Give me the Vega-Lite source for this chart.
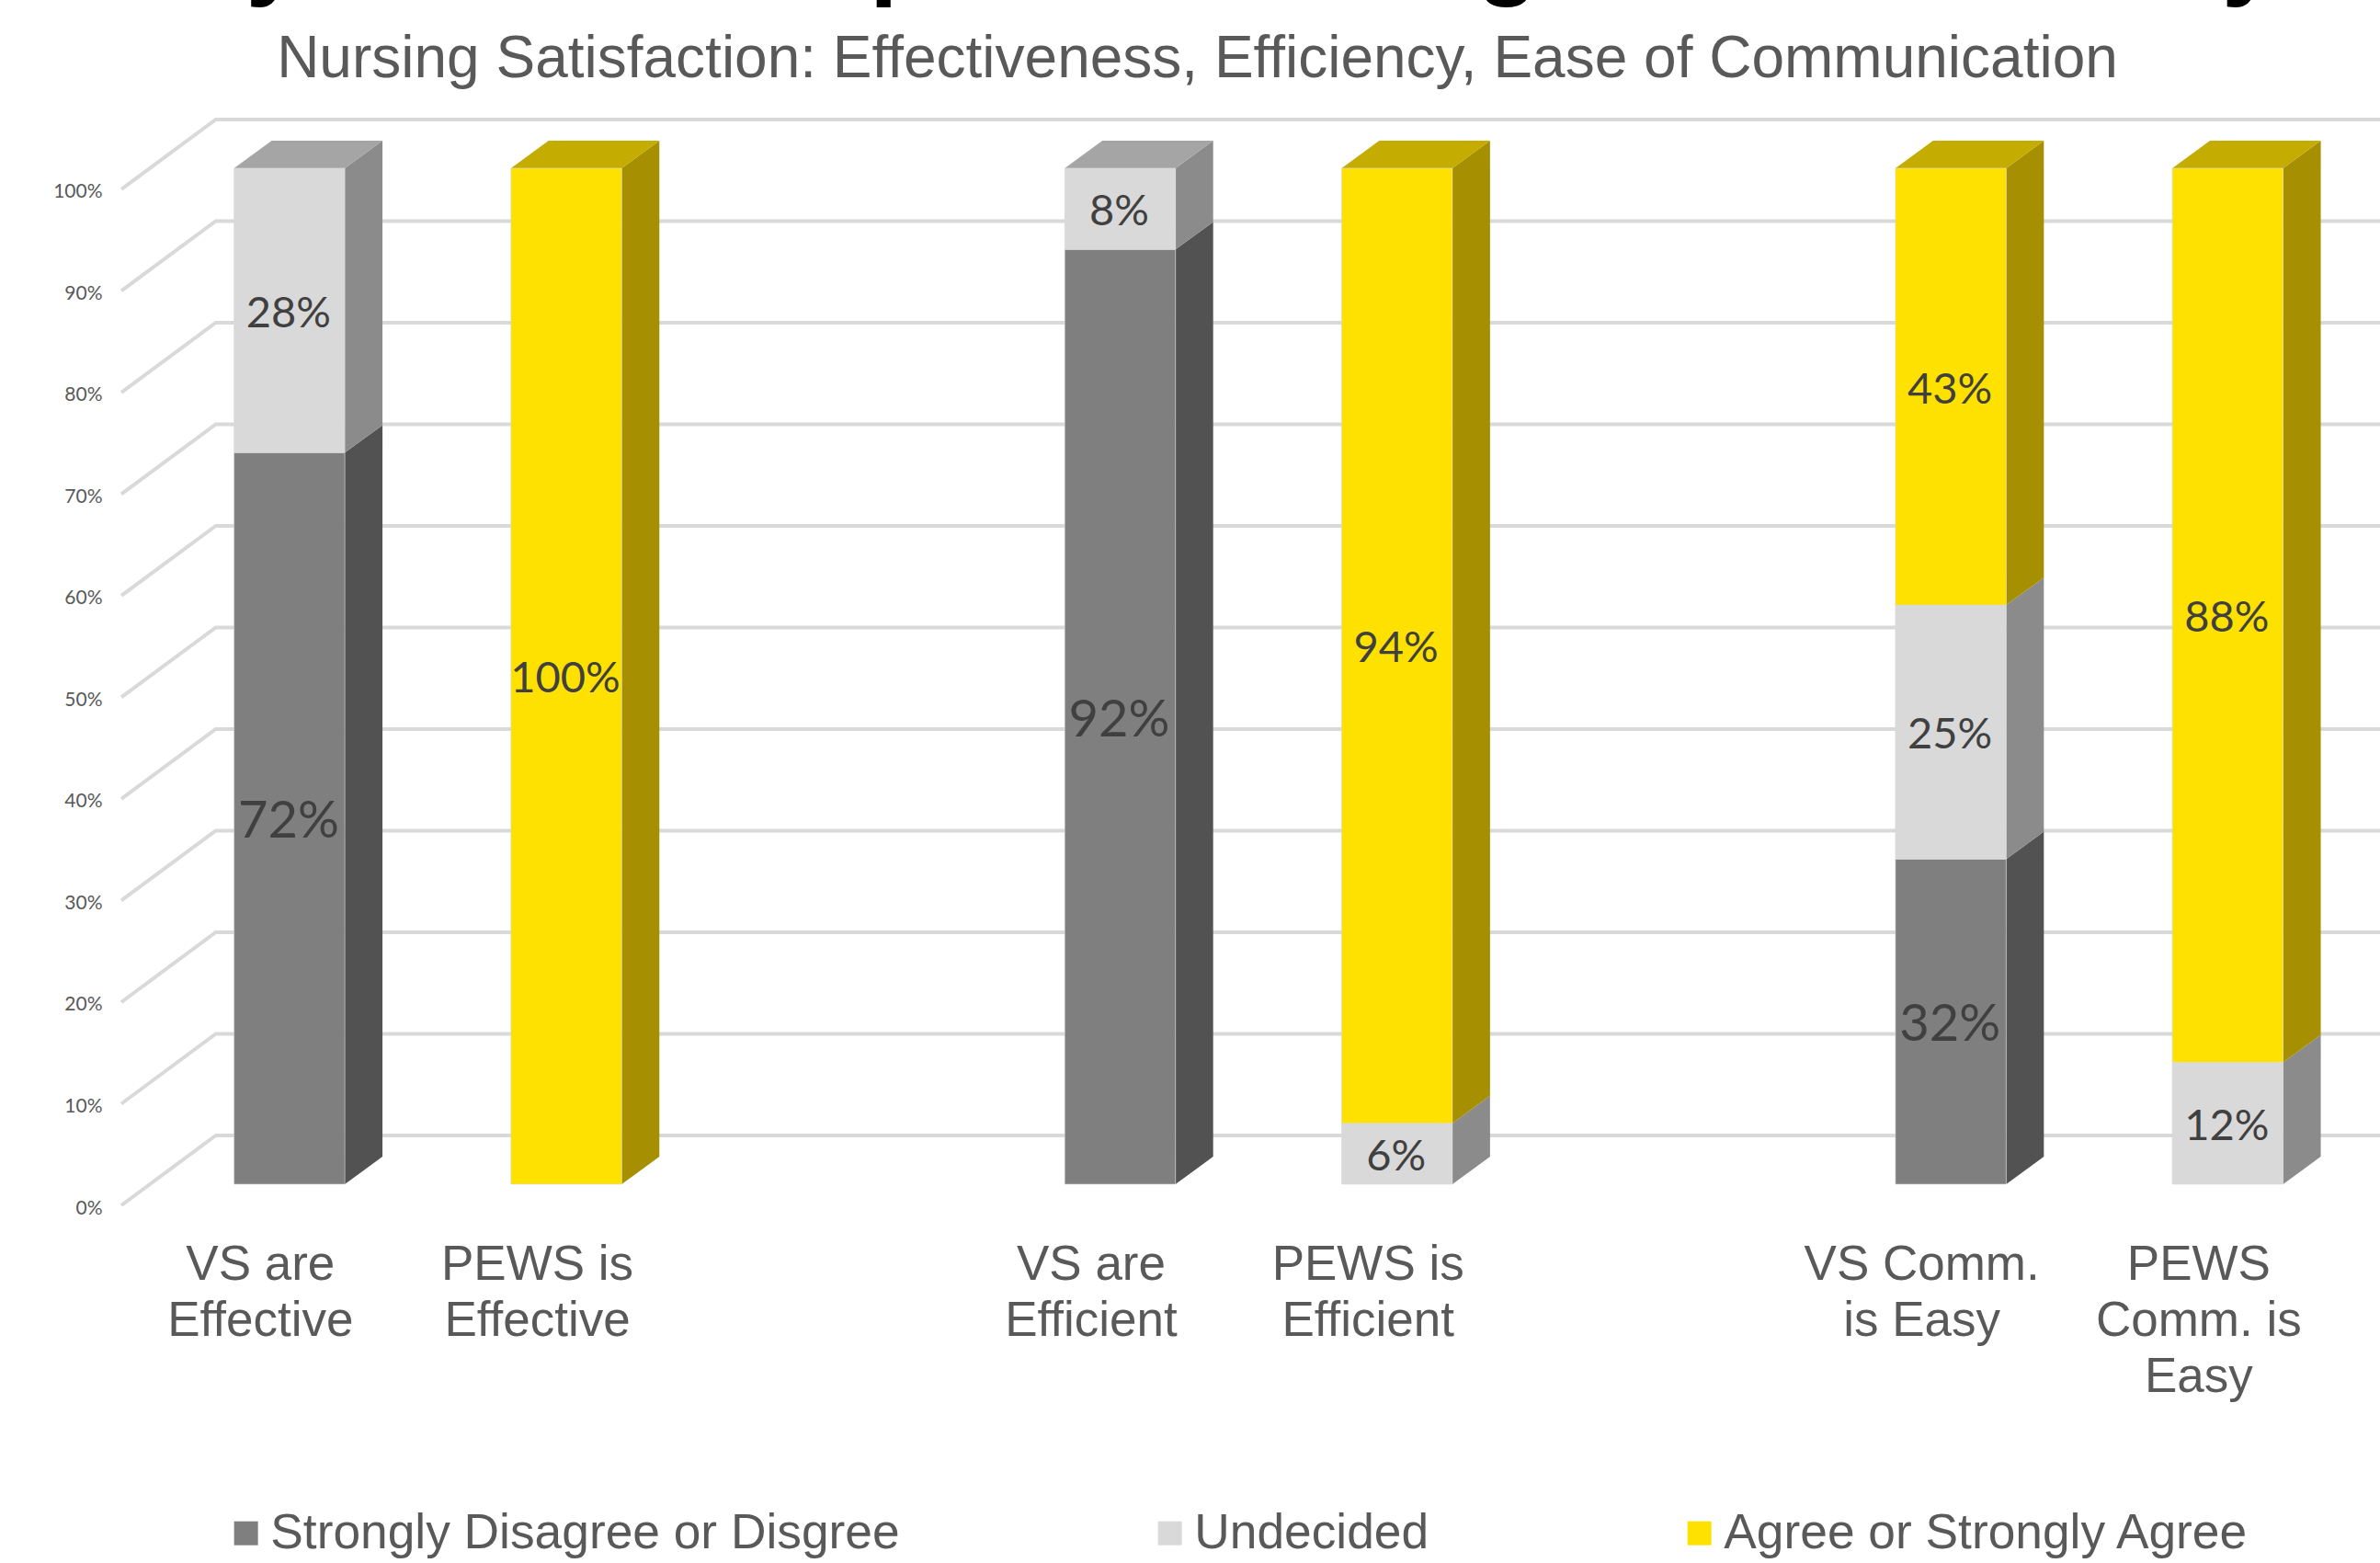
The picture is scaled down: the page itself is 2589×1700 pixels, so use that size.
{
"$schema":"https://vega.github.io/schema/vega-lite/v6.json",
"width":2457,"height":1182,
"autosize":{"type":"none"},
"padding":{"left":132,"top":129,"right":0,"bottom":389},
"background":"white",
"config":{"view":{"stroke":null}},
"title":{"text":"Key Nurse Comparison: Triage Tool Usability","subtitle":"Nursing Satisfaction: Effectiveness, Efficiency, Ease of Communication","font":"Liberation Sans","fontWeight":"bold","fontSize":110,"color":"#000000","subtitleFont":"Liberation Sans","subtitleFontSize":64,"subtitleColor":"#595959","subtitlePadding":25,"anchor":"middle","frame":"group","dx":-58,"offset":24},
"datasets":{
"segments":[
{"item":"VS are Effective","series":"Strongly Disagree or Disgree","value":72},
{"item":"VS are Effective","series":"Undecided","value":28},
{"item":"PEWS is Effective","series":"Agree or Strongly Agree","value":100},
{"item":"VS are Efficient","series":"Strongly Disagree or Disgree","value":92},
{"item":"VS are Efficient","series":"Undecided","value":8},
{"item":"PEWS is Efficient","series":"Undecided","value":6},
{"item":"PEWS is Efficient","series":"Agree or Strongly Agree","value":94},
{"item":"VS Comm. is Easy","series":"Strongly Disagree or Disgree","value":32},
{"item":"VS Comm. is Easy","series":"Undecided","value":25},
{"item":"VS Comm. is Easy","series":"Agree or Strongly Agree","value":43},
{"item":"PEWS Comm. is Easy","series":"Undecided","value":12},
{"item":"PEWS Comm. is Easy","series":"Agree or Strongly Agree","value":88}
],
"ticks":[{"tick":0},{"tick":10},{"tick":20},{"tick":30},{"tick":40},{"tick":50},{"tick":60},{"tick":70},{"tick":80},{"tick":90},{"tick":100}]
},
"data":{"name":"segments"},
"transform":[
{"calculate":"indexof(['Strongly Disagree or Disgree','Undecided','Agree or Strongly Agree'],datum.series)","as":"order"},
{"calculate":"indexof(['VS are Effective','PEWS is Effective','','VS are Efficient','PEWS is Efficient','','VS Comm. is Easy','PEWS Comm. is Easy'],datum.item)","as":"slot"},
{"stack":"value","groupby":["item"],"sort":[{"field":"order","order":"ascending"}],"as":["v0","v1"]},
{"calculate":"datum.item+'/'+datum.series","as":"seg"},
{"calculate":"datum.slot-0.2","as":"xl"},
{"calculate":"datum.slot+0.2","as":"xr"},
{"calculate":"(datum.v0+datum.v1)/2","as":"mid"},
{"calculate":"datum.value+'%'","as":"pct"}
],
"resolve":{"scale":{"color":"independent"}},
"layer":[
{
"data":{"name":"ticks"},
"transform":[
{"calculate":"[0,1,2]","as":"k"},
{"flatten":["k"]},
{"calculate":"[-0.607,-0.266,7.55][datum.k]","as":"wx"},
{"calculate":"datum.k==0?datum.tick-2.08:datum.tick+4.8","as":"wy"}
],
"mark":{"type":"line","color":"#D9D9D9","strokeWidth":4,"interpolate":"linear"},
"encoding":{
"x":{"field":"wx","type":"quantitative","sort":null,"scale":{"domain":[-0.607,7.55],"nice":false,"zero":false},
"axis":{"title":null,"values":[0,1,3,4,6,7],"domain":false,"ticks":false,"grid":false,"labelExpr":"split(['VS are|Effective','PEWS is|Effective','','VS are|Efficient','PEWS is|Efficient','','VS Comm.|is Easy','PEWS|Comm. is|Easy'][datum.value],'|')","labelOffset":-32,"labelPadding":38,"labelFont":"Liberation Sans","labelFontSize":53,"labelLineHeight":61,"labelColor":"#595959","labelOverlap":false,"labelBound":false,"labelFlush":false,"labelAngle":0,"labelBaseline":"top","labelLimit":1000}},
"y":{"field":"wy","type":"quantitative","scale":{"domain":[-2.08,104.88],"nice":false,"zero":false},
"axis":{"title":null,"values":[0,10,20,30,40,50,60,70,80,90,100],"domain":false,"ticks":false,"grid":false,"labelExpr":"datum.value+'%'","labelOffset":26,"labelPadding":21,"labelFont":"Lato","labelFontSize":21,"labelColor":"#595959","labelOverlap":false,"labelBound":false}},
"detail":{"field":"tick","type":"nominal"},
"order":{"field":"k","type":"quantitative"}
}
},
{
"transform":[
{"calculate":"[0,1]","as":"k"},
{"flatten":["k"]},
{"calculate":"datum.xr+0.136*datum.k","as":"sx"},
{"calculate":"datum.v0+2.71*datum.k","as":"sy0"},
{"calculate":"datum.v1+2.71*datum.k","as":"sy1"}
],
"mark":{"type":"area","interpolate":"linear","orient":"vertical"},
"encoding":{
"x":{"field":"sx","type":"quantitative"},
"y":{"field":"sy0","type":"quantitative"},
"y2":{"field":"sy1"},
"detail":{"field":"seg","type":"nominal"},
"color":{"field":"series","type":"nominal","legend":null,"scale":{"domain":["Strongly Disagree or Disgree","Undecided","Agree or Strongly Agree"],"range":["#525252","#8B8B8B","#A68F00"]}}
}
},
{
"transform":[
{"filter":"datum.v1==100"},
{"calculate":"[0,1]","as":"k"},
{"flatten":["k"]},
{"calculate":"datum.xl+0.136*datum.k","as":"tx0"},
{"calculate":"datum.xr+0.136*datum.k","as":"tx1"},
{"calculate":"datum.v1+2.71*datum.k","as":"ty"}
],
"mark":{"type":"area","interpolate":"linear","orient":"horizontal"},
"encoding":{
"y":{"field":"ty","type":"quantitative"},
"x":{"field":"tx0","type":"quantitative"},
"x2":{"field":"tx1"},
"detail":{"field":"seg","type":"nominal"},
"color":{"field":"series","type":"nominal","legend":null,"scale":{"domain":["Strongly Disagree or Disgree","Undecided","Agree or Strongly Agree"],"range":["#6E6E6E","#A5A5A5","#C4AC00"]}}
}
},
{
"mark":{"type":"rect","stroke":"#D9D9D9","strokeWidth":1,"strokeOpacity":0.6},
"encoding":{
"x":{"field":"xl","type":"quantitative"},
"x2":{"field":"xr"},
"y":{"field":"v0","type":"quantitative"},
"y2":{"field":"v1"},
"color":{"field":"series","type":"nominal","scale":{"domain":["Strongly Disagree or Disgree","Undecided","Agree or Strongly Agree"],"range":["#7F7F7F","#D9D9D9","#FFE100"]},
"legend":{"orient":"none","legendX":109,"legendY":1512,"direction":"horizontal","title":null,"symbolType":"square","symbolSize":676,"symbolStrokeWidth":0,"symbolOpacity":1,"labelFont":"Liberation Sans","labelFontSize":53.3,"labelColor":"#595959","columnPadding":267,"labelLimit":1000,"labelOffset":0}}
}
},
{
"mark":{"type":"text","font":"Lato","color":"#404040","align":"center","baseline":"middle","dy":4,"dx":-1},
"encoding":{
"x":{"field":"slot","type":"quantitative"},
"y":{"field":"mid","type":"quantitative"},
"text":{"field":"pct","type":"nominal"},
"size":{"field":"series","type":"nominal","legend":null,"scale":{"type":"ordinal","domain":["Strongly Disagree or Disgree","Undecided","Agree or Strongly Agree"],"range":[56,47,47]}}
}
}
]
}
